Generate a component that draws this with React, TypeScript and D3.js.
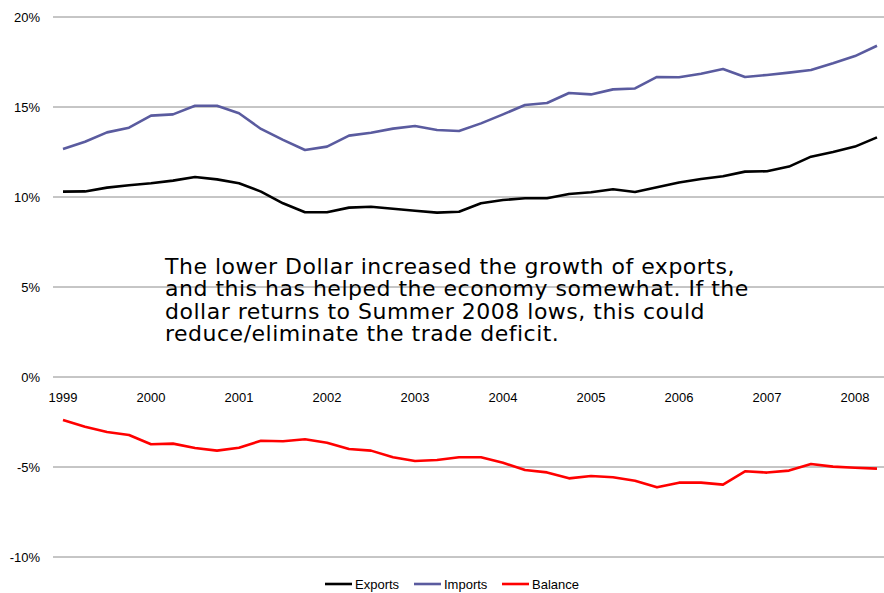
import React from "react";
import * as d3 from "d3";

const years = ["1999", "2000", "2001", "2002", "2003", "2004", "2005", "2006", "2007", "2008"];
const yTicks = [-10, -5, 0, 5, 10, 15, 20];

const exportsSeries = [
  10.3, 10.31, 10.52, 10.65, 10.76, 10.91, 11.11, 10.98, 10.76, 10.3,
  9.65, 9.15, 9.15, 9.41, 9.46, 9.35, 9.24, 9.13, 9.18, 9.65,
  9.83, 9.93, 9.93, 10.17, 10.26, 10.43, 10.28, 10.54, 10.81, 11.0,
  11.15, 11.41, 11.43, 11.69, 12.24, 12.5, 12.8, 13.31,
];
const importsSeries = [
  12.67, 13.07, 13.59, 13.85, 14.52, 14.59, 15.07, 15.07, 14.65, 13.78,
  13.17, 12.61, 12.8, 13.41, 13.57, 13.8, 13.94, 13.72, 13.67, 14.09,
  14.59, 15.11, 15.22, 15.78, 15.7, 15.98, 16.03, 16.67, 16.65, 16.85,
  17.11, 16.67, 16.78, 16.91, 17.06, 17.43, 17.83, 18.4,
];
const balanceSeries = [
  -2.39, -2.76, -3.06, -3.22, -3.74, -3.7, -3.94, -4.09, -3.93, -3.54,
  -3.57, -3.46, -3.65, -4.0, -4.09, -4.46, -4.67, -4.61, -4.46, -4.46,
  -4.76, -5.17, -5.3, -5.63, -5.5, -5.57, -5.76, -6.13, -5.87, -5.87,
  -5.98, -5.24, -5.31, -5.2, -4.83, -4.98, -5.04, -5.09,
];

const seriesNames = ["Exports", "Imports", "Balance"];
const seriesColors = ["#000000", "#5A5B9F", "#FF0000"];
const noteLines = [
  "The lower Dollar increased the growth of exports,",
  "and this has helped the economy somewhat. If the",
  "dollar returns to Summer 2008 lows, this could",
  "reduce/eliminate the trade deficit.",
];

export default function App() {
  const W = 884;
  const H = 593;
  const x = d3.scaleLinear().domain([0, exportsSeries.length - 1]).range([63, 877]);
  const y = d3.scaleLinear().domain([-10, 20]).range([557, 17]);
  const line = d3
    .line<number>()
    .x((_, i) => x(i))
    .y((d) => y(d));
  const all = [exportsSeries, importsSeries, balanceSeries];
  const font = "'Liberation Sans', Arial, sans-serif";
  const legendX = [325, 414, 502];
  return (
    <svg
      width={W}
      height={H}
      style={{ position: "absolute", left: 0, top: 0, background: "#fff" }}
    >
      {yTicks.map((t) => (
        <g key={t}>
          <line x1={53} x2={884} y1={y(t)} y2={y(t)} stroke="#8c8c8c" strokeWidth={1} />
          <text
            x={40}
            y={y(t)}
            dy="0.35em"
            textAnchor="end"
            fontFamily={font}
            fontSize={13}
            fill="#000"
          >
            {t + "%"}
          </text>
        </g>
      ))}
      {years.map((yr, i) => (
        <text
          key={yr}
          x={x(i * 4)}
          y={402}
          textAnchor="middle"
          fontFamily={font}
          fontSize={13}
          fill="#000"
        >
          {yr}
        </text>
      ))}
      {all.map((s, i) => (
        <path
          key={seriesNames[i]}
          d={line(s) || ""}
          fill="none"
          stroke={seriesColors[i]}
          strokeWidth={2.6}
          strokeLinejoin="round"
        />
      ))}
      <g>
        {noteLines.map((l, i) => (
          <text
            key={i}
            x={165}
            y={273.5 + i * 22.6}
            fontFamily="'DejaVu Sans', Verdana, sans-serif"
            fontSize={22}
            letterSpacing={0.5}
            fill="#000"
          >
            {l}
          </text>
        ))}
      </g>
      {seriesNames.map((n, i) => (
        <g key={n}>
          <line
            x1={legendX[i]}
            x2={legendX[i] + 27}
            y1={584}
            y2={584}
            stroke={seriesColors[i]}
            strokeWidth={2.6}
          />
          <text
            x={legendX[i] + 30}
            y={584}
            dy="0.35em"
            fontFamily={font}
            fontSize={13}
            fill="#000"
          >
            {n}
          </text>
        </g>
      ))}
    </svg>
  );
}
